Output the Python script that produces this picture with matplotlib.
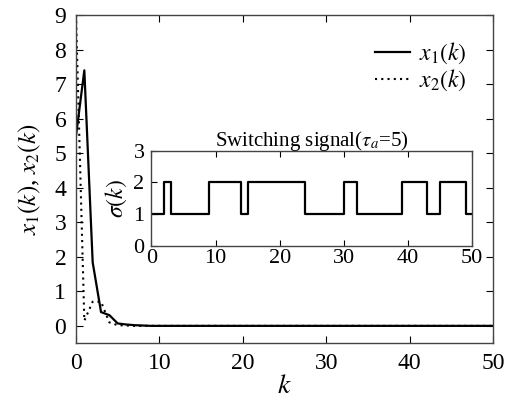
import matplotlib
matplotlib.use("Agg")
import matplotlib.pyplot as plt
import numpy as np

plt.rcParams["font.family"] = ["Liberation Serif", "DejaVu Serif"]
plt.rcParams["mathtext.fontset"] = "stix"

# state trajectories
k_vals  = np.arange(0, 51)
x1_head = [5.5, 7.4, 1.84, 0.4, 0.31, 0.07, 0.04, 0.02, 0.01]
x2_head = [9.0, 0.15, 0.7, 0.7, 0.1, 0.02, 0.01]
x1 = np.array(x1_head + [0.0] * (len(k_vals) - len(x1_head)))
x2 = np.array(x2_head + [0.0] * (len(k_vals) - len(x2_head)))

# switching signal: change instants and modes
switch_k    = [0, 2, 3, 9, 14, 15, 24, 30, 32, 39, 43, 45, 49, 50]
switch_mode = [1, 2, 1, 2, 1, 2, 1, 2, 1, 2, 1, 2, 1, 1]

fig = plt.figure(figsize=(5.1, 4.08), dpi=100)
ax = fig.add_axes([0.149, 0.159, 0.818, 0.804])

ax.plot(k_vals, x1, color="black", linewidth=1.6, label="$x_1(k)$")
ax.plot(k_vals, x2, color="black", linewidth=1.5, linestyle=(0, (1, 2)), label="$x_2(k)$")

ax.set_xlim(0, 50)
ax.set_ylim(-0.5, 9)
ax.set_xticks([0, 10, 20, 30, 40, 50])
ax.set_yticks(range(0, 10))
ax.tick_params(direction="in", top=True, right=True, labelsize=17, length=5, pad=7)
for s in ax.spines.values():
    s.set_color("#444444")
    s.set_linewidth(1.0)
ax.set_xlabel("$k$", fontsize=20, labelpad=0)
ax.set_ylabel("$x_1(k)$, $x_2(k)$", fontsize=18, labelpad=8)
ax.legend(loc="upper right", bbox_to_anchor=(0.96, 0.95), frameon=False, fontsize=17,
          handlelength=1.5, handletextpad=0.4, labelspacing=0.05, borderaxespad=0)

ins = fig.add_axes([0.297, 0.397, 0.629, 0.234])
ins.step(switch_k, switch_mode, where="post", color="black", linewidth=1.6)
ins.set_xlim(0, 50)
ins.set_ylim(0, 3)
ins.set_xticks([0, 10, 20, 30, 40, 50])
ins.set_yticks([0, 1, 2, 3])
ins.tick_params(direction="in", top=True, labelsize=16, length=4, pad=2)
ins.tick_params(axis="y", pad=5)
for s in ins.spines.values():
    s.set_color("#444444")
    s.set_linewidth(1.0)
ins.set_title("Switching signal($\\tau_a$=5)", fontsize=15, pad=3)
ins.set_ylabel("$\\sigma(k)$", fontsize=17, labelpad=3)

fig.savefig("out.png", dpi=100)
